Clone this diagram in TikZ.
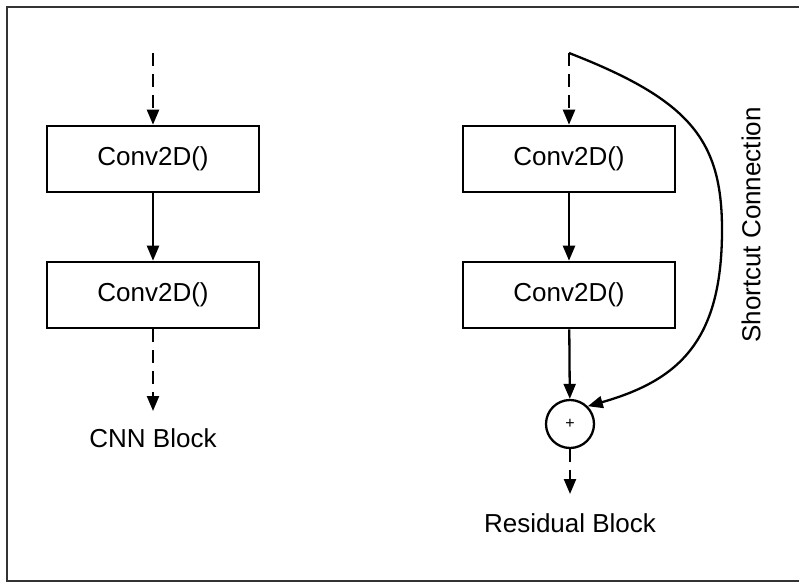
\documentclass[tikz,border=0pt]{standalone}
\usepackage{fontspec}
\setmainfont{Liberation Sans}
\usetikzlibrary{arrows.meta}
\begin{document}
\begin{tikzpicture}[x=1pt,y=-1pt,
  blk/.style={draw, line width=2.6pt, minimum width=212pt, minimum height=66pt, inner sep=0pt, font=\fontsize{26}{31}\selectfont},
  arr/.style={line width=2.3pt, -{Triangle[length=15pt,width=12pt]}},
  dsh/.style={dash pattern=on 13pt off 8pt},
  lbl/.style={font=\fontsize{26}{31}\selectfont}]
\useasboundingbox (0,0) rectangle (799,583);
\begin{scope}
\clip (0,0) rectangle (799,583);
\draw[line width=2.2pt, black!80] (7,7) rectangle (830,581);
\end{scope}
% left block
\node[blk] (l1) at (153,159) {Conv2D()};
\node[blk] (l2) at (153,295) {Conv2D()};
\coordinate (lin) at (153,53);
\coordinate (lout) at (153,411);
\node[lbl] (lcap) at (153,438) {CNN Block};
\draw[arr,dsh] (lin) -- (l1);
\draw[arr] (l1) -- (l2);
\draw[arr,dsh] (l2) -- (lout);
% right block
\node[blk] (r1) at (569,159) {Conv2D()};
\node[blk] (r2) at (569,295) {Conv2D()};
\node[draw, circle, line width=2.3pt, minimum size=48pt, inner sep=0pt, font=\fontsize{16}{18}\selectfont] (add) at (570,424) {+};
\coordinate (rin) at (569,53);
\coordinate (rout) at (570,494);
\node[lbl] (rcap) at (570,523) {Residual Block};
\draw[arr,dsh] (rin) -- (r1);
\draw[arr] (r1) -- (r2);
\draw[arr] (r2) -- (add);
\draw[arr,dsh] (add) -- (rout);
\draw[arr] (rin) .. controls (690,100) and (722,140) .. (722,230) .. controls (722,340) and (680,380) .. (add.45);
\node[lbl, rotate=90] (sc) at (751,225) {Shortcut Connection};
\end{tikzpicture}
\end{document}
